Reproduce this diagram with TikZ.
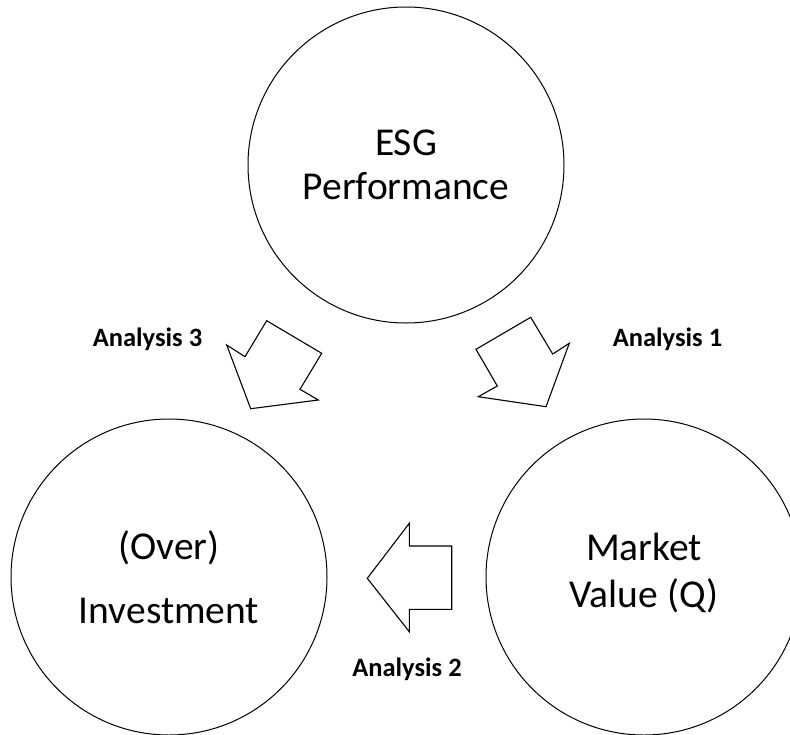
\documentclass[tikz,border=0pt]{standalone}
\usepackage{fontspec}
\setmainfont{Carlito}
\begin{document}
\begin{tikzpicture}[x=1pt,y=-1pt,
  ring/.style={circle,draw,line width=1pt,minimum size=316pt,inner sep=0pt},
  bigtext/.style={align=center,font=\fontsize{39.5}{44.5}\selectfont,inner sep=0pt},
  analysis/.style={font=\fontsize{26.5}{30}\selectfont\bfseries,inner sep=0pt,anchor=base},
  blockarrow/.style={draw,line width=1.1pt,line join=miter,fill=white}]
\useasboundingbox (0,0) rectangle (790,734);
\fill[white] (0,0) rectangle (790,734);
% circles
\node[ring] (esg) at (406,165) {};
\node[ring] (inv) at (169,577) {};
\node[ring] (mv) at (644,577) {};
% circle texts
\node[bigtext] (esgtext) at (esg.center) {ESG\\Performance};
\node[bigtext,font=\fontsize{39.5}{64}\selectfont] (invtext) at (inv.center) {(Over)\\Investment};
\node[bigtext,font=\fontsize{39.5}{47.5}\selectfont,yshift=4pt] (mvtext) at (mv.center) {Market\\Value (Q)};
% block arrows
\draw[blockarrow] (266.7,320.7) -- (321.7,353.3) -- (300,389.3) -- (318.3,400)
  -- (250.7,408.7) -- (226.7,345) -- (245,356.7) -- cycle;
\draw[blockarrow] (476,349.3) -- (530.7,317.3) -- (552.7,354) -- (569.3,343.3)
  -- (546,406.7) -- (478.3,396.7) -- (497.3,386) -- cycle;
\draw[blockarrow] (451.7,546) -- (451.7,609.3) -- (409.3,609.3) -- (409.3,631.7)
  -- (367.3,578.3) -- (409.3,523.3) -- (409.3,546) -- cycle;
% labels
\node[analysis] (a3) at (147.5,346.7) {Analysis 3};
\node[analysis] (a1) at (667.5,346.7) {Analysis 1};
\node[analysis] (a2) at (407,676.7) {Analysis 2};
\end{tikzpicture}
\end{document}
